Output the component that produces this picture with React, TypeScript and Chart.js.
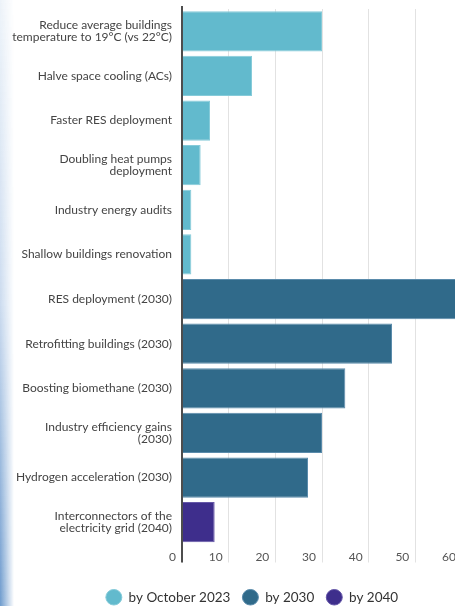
import React, { useEffect, useRef } from "react";
import { Chart, registerables } from "chart.js";

Chart.register(...registerables);

const categories: (string | string[])[] = [
  ["Reduce average buildings", "temperature to 19°C (vs 22°C)"],
  "Halve space cooling (ACs)",
  "Faster RES deployment",
  ["Doubling heat pumps", "deployment"],
  "Industry energy audits",
  "Shallow buildings renovation",
  "RES deployment (2030)",
  "Retrofitting buildings (2030)",
  "Boosting biomethane (2030)",
  ["Industry efficiency gains", "(2030)"],
  "Hydrogen acceleration (2030)",
  ["Interconnectors of the", "electricity grid (2040)"],
];

const byOctober2023 = [30, 15, 6, 4, 2, 2, null, null, null, null, null, null];
const by2030 = [null, null, null, null, null, null, 60, 45, 35, 30, 27, null];
const by2040 = [null, null, null, null, null, null, null, null, null, null, null, 7];

const seriesNames = ["by October 2023", "by 2030", "by 2040"];
const xTicks = [0, 10, 20, 30, 40, 50, 60];

const COLORS = ["#62bacd", "#306a8a", "#3e2e8c"];
const BORDERS = ["#86cbd9", "#5a8bab", "#6658a8"];

const axisLinePlugin = {
  id: "axisLine",
  afterLayout(chart: any) {
    const lg = chart.legend;
    if (lg) {
      lg.left += 21;
      lg.right += 21;
    }
  },
  afterDatasetsDraw(chart: any) {
    const { ctx, chartArea } = chart;
    ctx.save();
    ctx.strokeStyle = "#4d4d4d";
    ctx.lineWidth = 2;
    ctx.beginPath();
    ctx.moveTo(chartArea.left, chartArea.top - 3);
    ctx.lineTo(chartArea.left, chartArea.bottom + 18);
    ctx.stroke();
    ctx.restore();
  },
};

export default function App() {
  const ref = useRef<HTMLCanvasElement | null>(null);

  useEffect(() => {
    if (!ref.current) return;
    const font = "Lato, 'Open Sans', sans-serif";
    const chart = new Chart(ref.current, {
      type: "bar",
      data: {
        labels: categories,
        datasets: [byOctober2023, by2030, by2040].map((d, i) => ({
          label: seriesNames[i],
          data: d,
          backgroundColor: COLORS[i],
          borderColor: BORDERS[i],
          borderWidth: 1,
          barPercentage: 0.9,
          categoryPercentage: 1,
        })),
      },
      options: {
        indexAxis: "y",
        responsive: false,
        animation: false,
        layout: { padding: { top: 9, left: 0, right: 49, bottom: -8 } },
        scales: {
          x: {
            stacked: true,
            min: 0,
            max: 60,
            afterBuildTicks: (scale: any) => {
              scale.ticks = xTicks.map((v) => ({ value: v }));
            },
            afterFit: (scale: any) => {
              scale.height = 34;
              scale.paddingLeft = 0;
              scale.paddingRight = 0;
            },
            grid: {
              color: "#e2e2e2",
              lineWidth: 1,
              drawTicks: true,
              tickLength: 18,
              tickColor: "#e2e2e2",
            },
            border: { display: false },
            ticks: {
              align: "end",
              labelOffset: -6,
              padding: -13,
              color: "#555",
              font: { family: font, size: 12 },
            },
          },
          y: {
            stacked: true,
            afterFit: (scale: any) => {
              scale.width = 182;
              scale.paddingTop = 0;
              scale.paddingBottom = 0;
            },
            grid: { display: false, drawTicks: false },
            border: { display: false },
            ticks: {
              padding: 10,
              color: "#444",
              font: { family: font, size: 12, lineHeight: 1.0 },
            },
          },
        },
        plugins: {
          legend: {
            position: "bottom",
            labels: {
              usePointStyle: true,
              pointStyle: "circle",
              boxHeight: 11,
              pointStyleWidth: 16,
              padding: 12,
              color: "#333",
              font: { family: font, size: 13.5 },
            },
          },
          tooltip: { enabled: false },
        },
      },
      plugins: [axisLinePlugin],
    } as any);
    return () => chart.destroy();
  }, []);

  return (
    <div
      style={{
        position: "absolute",
        left: 0,
        top: 0,
        width: 455,
        height: 606,
        overflow: "hidden",
        background: "#fff",
      }}
    >
      <div
        style={{
          position: "absolute",
          left: 0,
          top: 0,
          width: 14,
          height: 606,
          background:
            "linear-gradient(to bottom, rgba(225,235,245,0.6) 0%, rgba(190,210,235,0.8) 50%, rgba(110,155,205,1) 100%)",
          WebkitMaskImage: "linear-gradient(to right, black 0%, transparent 100%)",
          maskImage: "linear-gradient(to right, black 0%, transparent 100%)",
        }}
      />
      <canvas
        ref={ref}
        width={511}
        height={606}
        style={{ position: "absolute", left: 0, top: 0, width: 511, height: 606 }}
      />
    </div>
  );
}
